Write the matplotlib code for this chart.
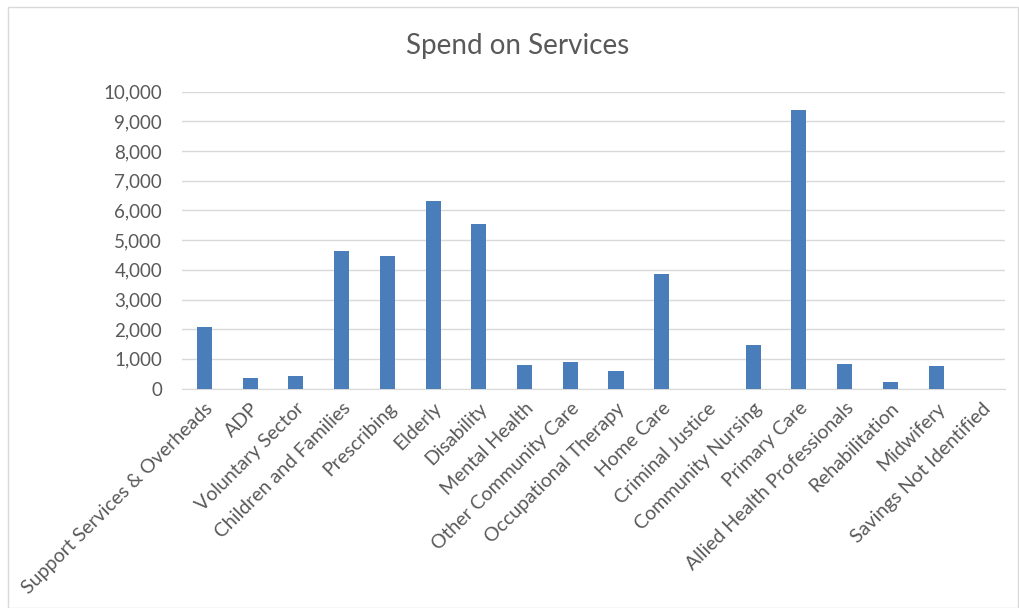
import matplotlib.pyplot as plt
from matplotlib.patches import Rectangle

categories = ["Support Services & Overheads", "ADP", "Voluntary Sector", "Children and Families",
              "Prescribing", "Elderly", "Disability", "Mental Health", "Other Community Care",
              "Occupational Therapy", "Home Care", "Criminal Justice", "Community Nursing",
              "Primary Care", "Allied Health Professionals", "Rehabilitation", "Midwifery",
              "Savings Not Identified"]
spend = [2090, 370, 420, 4640, 4470, 6330, 5540, 780, 880,
         590, 3860, 0, 1470, 9380, 820, 230, 760, 0]
yticks = list(range(0, 10001, 1000))

plt.rcParams['font.family'] = ['Lato', 'DejaVu Sans']
grey = "#595959"

fig = plt.figure(figsize=(10.2, 6.08), dpi=100)
ax = fig.add_axes([0.178, 0.361, 0.807, 0.488])

x = range(len(categories))
ax.bar(x, spend, width=0.33, color="#4a7ebb", zorder=3)

ax.set_xlim(-0.5, len(categories) - 0.5)
ax.set_ylim(0, 10000)
ax.set_yticks(yticks)
ax.set_yticklabels([f"{v:,}" for v in yticks], fontsize=13.5, color=grey)
ax.set_xticks(list(x))
ax.set_xticklabels(categories, rotation=45, ha="right", rotation_mode="anchor",
                   fontsize=14, color=grey)
ax.tick_params(axis="y", length=0, pad=14)
ax.tick_params(axis="x", length=0, pad=8)
ax.grid(axis="y", color="#d9d9d9", linewidth=1, zorder=0)
for s in ["top", "right", "left"]:
    ax.spines[s].set_visible(False)
ax.spines["bottom"].set_color("#d9d9d9")

fig.text(0.507, 0.924, "Spend on Services", ha="center", va="center", fontsize=20, color=grey)
fig.patches.append(Rectangle((0.008, 0.0), 0.99, 0.988, transform=fig.transFigure,
                             fill=False, edgecolor="#d9d9d9", linewidth=1))

fig.savefig("out.png", dpi=100)
